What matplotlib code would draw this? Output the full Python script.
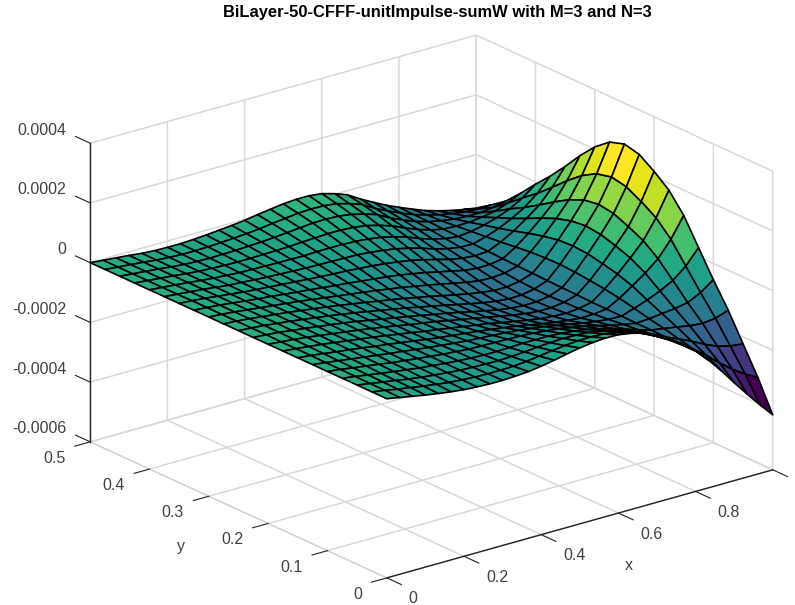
import numpy as np
import matplotlib
matplotlib.use('Agg')
import matplotlib.pyplot as plt
from mpl_toolkits.mplot3d import proj3d

plt.rcParams['font.family'] = ['Liberation Sans', 'DejaVu Sans']
plt.rcParams['grid.color'] = '#d9d9d9'
plt.rcParams['grid.linewidth'] = 1.1

TITLE = 'BiLayer-50-CFFF-unitImpulse-sumW with M=3 and N=3'
GRID_COLOR = '#d9d9d9'
TEXT_COLOR = '#404040'
TICK_FONT = 11.5

x_ticks = [0, 0.2, 0.4, 0.6, 0.8, 1]
x_ticklabels = ['0', '0.2', '0.4', '0.6', '0.8', '']
y_ticks = [0, 0.1, 0.2, 0.3, 0.4, 0.5]
y_ticklabels = ['0', '0.1', '0.2', '0.3', '0.4', '0.5']
z_ticks = [-0.0006, -0.0004, -0.0002, 0, 0.0002, 0.0004]
z_ticklabels = ['-0.0006', '-0.0004', '-0.0002', '0', '0.0002', '0.0004']

# deflection in 1e-6, one row per x (0 to 1), one column per y (0 to 0.5)
w_micro = [
    [0, 0, 0, 0, 0, 0, 0, 0, 0, 0, 0, 0, 0, 0, 0, 0, 0, 0, 0, 0, 0],
    [-8, -7, -7, -6, -5, -5, -4, -4, -4, -3, -3, -3, -3, -3, -3, -4, -4, -4, -4, -4, -4],
    [-16, -15, -14, -13, -12, -11, -10, -9, -8, -7, -7, -7, -7, -7, -7, -8, -8, -8, -8, -8, -8],
    [-24, -22, -21, -20, -18, -17, -16, -14, -13, -13, -12, -12, -12, -12, -12, -12, -12, -12, -12, -12, -12],
    [-31, -29, -28, -26, -24, -23, -21, -20, -19, -18, -17, -17, -17, -17, -17, -17, -17, -17, -17, -17, -17],
    [-37, -35, -34, -32, -31, -29, -27, -26, -25, -24, -23, -22, -22, -22, -22, -22, -21, -21, -21, -20, -20],
    [-42, -41, -39, -38, -36, -35, -34, -32, -31, -30, -29, -28, -27, -26, -26, -25, -24, -23, -23, -22, -21],
    [-45, -44, -43, -42, -41, -40, -39, -38, -37, -36, -35, -34, -32, -31, -29, -28, -27, -25, -24, -22, -21],
    [-47, -47, -47, -47, -46, -46, -46, -45, -44, -43, -42, -40, -38, -36, -33, -31, -28, -26, -23, -21, -19],
    [-47, -48, -49, -50, -51, -51, -52, -52, -51, -51, -49, -47, -44, -40, -36, -33, -29, -26, -22, -19, -16],
    [-45, -48, -50, -53, -54, -56, -59, -59, -59, -59, -57, -54, -50, -45, -40, -35, -30, -25, -20, -16, -12],
    [-42, -47, -51, -55, -58, -61, -65, -67, -67, -67, -65, -61, -56, -50, -43, -37, -30, -24, -18, -13, -8],
    [-36, -43, -49, -55, -59, -65, -70, -73, -74, -75, -73, -69, -62, -54, -46, -38, -31, -23, -15, -9, -3],
    [-28, -37, -46, -54, -60, -68, -75, -80, -81, -83, -81, -76, -68, -59, -48, -39, -29, -20, -11, -3, 4],
    [-19, -31, -42, -52, -61, -71, -80, -87, -90, -92, -90, -84, -75, -64, -52, -40, -29, -18, -7, 2, 10],
    [-11, -26, -39, -52, -62, -74, -86, -94, -98, -100, -99, -93, -82, -69, -55, -41, -29, -16, -3, 7, 16],
    [-5, -22, -37, -52, -65, -78, -92, -101, -106, -109, -108, -101, -90, -75, -60, -45, -31, -16, -2, 9, 19],
    [-2, -21, -38, -55, -69, -84, -99, -110, -115, -119, -118, -111, -98, -83, -66, -50, -35, -19, -4, 8, 19],
    [-3, -23, -41, -59, -74, -90, -107, -118, -123, -128, -127, -120, -107, -91, -73, -57, -41, -25, -10, 3, 14],
    [-10, -31, -48, -66, -82, -98, -115, -126, -132, -137, -136, -129, -116, -101, -83, -67, -52, -36, -21, -9, 2],
    [-22, -42, -59, -76, -90, -106, -122, -133, -139, -143, -143, -136, -125, -110, -94, -79, -64, -50, -35, -24, -14],
    [-40, -57, -72, -87, -100, -114, -128, -137, -143, -147, -147, -142, -132, -120, -106, -94, -82, -69, -58, -49, -40],
    [-65, -78, -89, -101, -111, -121, -132, -139, -143, -146, -146, -142, -134, -125, -114, -105, -95, -86, -77, -70, -63],
    [-95, -102, -108, -115, -120, -126, -131, -135, -137, -139, -138, -135, -130, -124, -118, -112, -106, -100, -94, -89, -85],
    [-130, -130, -129, -128, -128, -127, -126, -126, -124, -123, -122, -120, -119, -117, -115, -113, -111, -109, -107, -106, -104],
    [-172, -159, -147, -135, -125, -113, -102, -94, -88, -83, -80, -81, -84, -90, -96, -101, -106, -111, -116, -119, -122],
    [-220, -192, -167, -142, -120, -97, -73, -56, -44, -34, -30, -33, -43, -56, -71, -85, -97, -110, -122, -131, -139],
    [-272, -228, -189, -150, -115, -79, -42, -14, 4, 19, 25, 19, 4, -17, -41, -64, -84, -105, -125, -139, -152],
    [-322, -262, -208, -154, -107, -56, -6, 32, 56, 77, 85, 77, 55, 25, -8, -39, -67, -97, -125, -145, -163],
    [-370, -290, -219, -149, -86, -20, 47, 96, 128, 155, 165, 153, 124, 84, 39, -4, -42, -82, -120, -147, -172],
    [-416, -314, -224, -134, -55, 30, 115, 177, 217, 251, 263, 247, 208, 156, 97, 42, -8, -61, -110, -146, -179],
]

W = np.array(w_micro) * 1e-6
x = np.linspace(0, 1, W.shape[0])
y = np.linspace(0, 0.5, W.shape[1])
Y, X = np.meshgrid(y, x)

fig = plt.figure(figsize=(7.95, 6.05), dpi=100)
ax = fig.add_axes([120.8 / 795, -12.2 / 605, 605 / 795, 1], projection='3d',
                  proj_type='ortho', facecolor='none')
ax.view_init(elev=21, azim=-128)
ax.set_box_aspect((490, 482, 320), zoom=1.216)

surf = ax.plot_surface(X, Y, W, cmap='viridis', rstride=1, cstride=1, shade=False,
                       edgecolor='black', linewidth=1.2, antialiased=True)
surf.set_clip_on(False)

ax.set_xlim(0, 1, view_margin=0)
ax.set_ylim(0, 0.5, view_margin=0)
ax.set_zlim(-0.0006, 0.0004, view_margin=0)

ax.set_xticks(x_ticks, [''] * len(x_ticks))
ax.set_yticks(y_ticks, [''] * len(y_ticks))
ax.set_zticks(z_ticks, [''] * len(z_ticks))

for axis in (ax.xaxis, ax.yaxis, ax.zaxis):
    axis.set_pane_color((1, 1, 1, 0))
    axis.pane.set_edgecolor(GRID_COLOR)
    axis.line.set_color('#222222')
    axis.line.set_linewidth(1.0)
ax.yaxis.line.set_color('#cccccc')
ax.yaxis.line.set_linewidth(0.5)

# ticks point away from the box, z ticks run along y
ax.xaxis._axinfo['tick'].update(inward_factor=0.62, outward_factor=0)
ax.yaxis._axinfo['tick'].update(inward_factor=0.5, outward_factor=0)
ax.zaxis._axinfo['tick'].update(inward_factor=0, outward_factor=0.62)
ax.zaxis._get_tickdir = lambda pos: 1
ax.tick_params(axis='both', color='#222222', width=1.0)
ax.tick_params(axis='z', color='#222222', width=1.0)


def tick_label(xs, ys, zs, text, dx, dy, ha):
    px, py, _ = proj3d.proj_transform(xs, ys, zs, ax.get_proj())
    ax.annotate(text, xy=(px, py), xycoords='data', xytext=(dx, dy), textcoords='offset pixels',
                ha=ha, va='center', fontsize=TICK_FONT, color=TEXT_COLOR, annotation_clip=False)


for tick, label in zip(x_ticks, x_ticklabels):
    tick_label(tick, 0, -0.0006, label, 22, -21, 'left')
for tick, label in zip(y_ticks, y_ticklabels):
    tick_label(0, tick, -0.0006, label, -25, -16.5, 'right')
for tick, label in zip(z_ticks, z_ticklabels):
    tick_label(0, 0.5, tick, label, -24, 13, 'right')

fig.text(629 / 795, 1 - 565 / 605, 'x', fontsize=TICK_FONT, color=TEXT_COLOR, ha='center', va='center')
fig.text(181 / 795, 1 - 546 / 605, 'y', fontsize=TICK_FONT, color=TEXT_COLOR, ha='center', va='center')
fig.text(437.5 / 795, 1 - 12 / 605, TITLE, fontsize=11.9, fontweight='bold', ha='center', va='center')

plt.savefig('out.png', dpi=100)
